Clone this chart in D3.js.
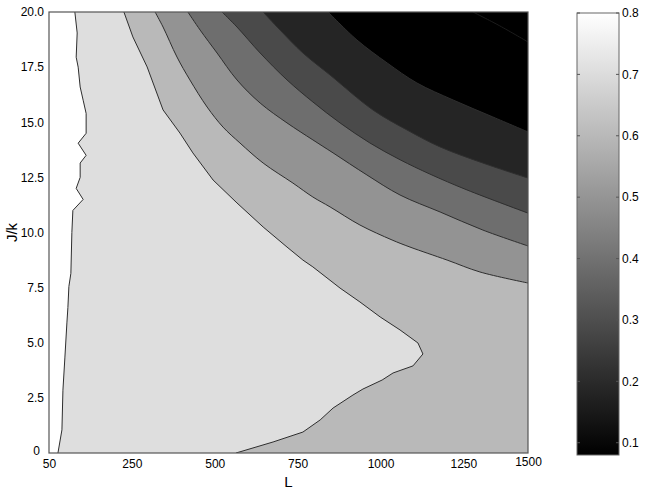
<!DOCTYPE html>
<html><head><meta charset="utf-8">
<script src="https://cdn.jsdelivr.net/npm/d3@7"></script>
<style>body{margin:0;background:#fff}svg{display:block}text{font-family:"Liberation Sans",Arial,sans-serif;fill:#000}</style>
</head><body><svg id="c" width="645" height="491"></svg>
<script>
// ---- data (L, J/k) ----
const xTickValues = [0, 250, 500, 750, 1000, 1250, 1445];
const xTickLabels = ["50", "250", "500", "750", "1000", "1250", "1500"];
const yTickValues = [0, 2.5, 5, 7.5, 10, 12.5, 15, 17.5, 20];
const yTickLabels = ["0", "2.5", "5.0", "7.5", "10.0", "12.5", "15.0", "17.5", "20.0"];
const cbTickValues = [0.1, 0.2, 0.3, 0.4, 0.5, 0.6, 0.7, 0.8];
const cbTickLabels = ["0.1", "0.2", "0.3", "0.4", "0.5", "0.6", "0.7", "0.8"];

// band values (filled levels, highest at left/bottom)
const bandValues = [0.80, 0.707, 0.602, 0.495, 0.39, 0.29, 0.184, 0.08, 0.08];

// contour boundary lines, each from top edge down/right
const contourW = [[78,20],[85,19.05],[82,17.95],[88,17.5],[94,16.6],[103,16.0],[112,15.4],[112,14.5],[88,14.05],[112,13.5],[94,13.15],[94,12.5],[82,12.0],[103,11.5],[72,11.0],[69,10.0],[66,8.15],[60,7.55],[57,6.6],[54,5.9],[48,4.35],[42,2.85],[39,1.05],[27,0]];
const contourA = [[226,20],[253,18.87],[296,17.51],[314,16.78],[344,15.56],[395,14.51],[434,13.61],[495,12.38],[567,11.34],[646,10.25],[718,9.34],[766,8.75],[796,8.44],[878,7.48],[938,6.85],[999,6.17],[1059,5.58],[1113,4.99],[1128,4.49],[1098,3.95],[1038,3.63],[1005,3.31],[947,2.9],[917,2.63],[857,2.04],[818,1.5],[766,0.95],[676,0.5],[564,0]];
const contourB = [[320,20],[344,19.32],[386,17.96],[425,16.92],[477,15.69],[525,14.78],[576,14.06],[646,13.15],[736,12.24],[796,11.61],[848,11.16],[938,10.34],[1035,9.66],[1089,9.34],[1201,8.75],[1300,8.21],[1445,7.71]];
const contourC = [[419,20],[456,19.18],[507,18.14],[567,16.92],[637,15.87],[718,14.97],[796,14.2],[857,13.61],[959,12.61],[1059,11.7],[1180,10.93],[1309,10.11],[1445,9.39]];
const contourD = [[522,20],[567,19.32],[637,18.14],[718,16.92],[796,15.92],[878,14.97],[968,14.06],[1059,13.3],[1149,12.65],[1261,11.93],[1445,10.88]];
const contourE = [[646,20],[697,19.18],[766,18.14],[848,17.14],[977,15.56],[1080,14.65],[1180,13.88],[1309,13.15],[1445,12.47]];
const contourF = [[842,20],[929,18.73],[1020,17.69],[1110,16.78],[1219,16.01],[1339,15.24],[1445,14.56]];
const contourG = [[1279,20],[1360,19.37],[1445,18.64]];

const xDomain = [0, 1445];
const yDomain = [0, 20];
const cbDomain = [0.08, 0.8];

// ---- layout ----
const svg = d3.select("#c");
const m = {left: 49, right: 528, top: 12, bottom: 453};
const x = d3.scaleLinear().domain(xDomain).range([m.left, m.right]);
const y = d3.scaleLinear().domain(yDomain).range([m.bottom, m.top]);
const gray = d3.scaleLinear().domain(cbDomain).range(["#000000", "#ffffff"]).clamp(true);

const defs = svg.append("defs");
defs.append("clipPath").attr("id", "clip")
  .append("rect").attr("x", m.left).attr("y", m.top)
  .attr("width", m.right - m.left).attr("height", m.bottom - m.top);

const plot = svg.append("g").attr("clip-path", "url(#clip)");
plot.append("rect").attr("x", m.left).attr("y", m.top)
  .attr("width", m.right - m.left).attr("height", m.bottom - m.top)
  .attr("fill", gray(bandValues[0]));

const contours = [contourW, contourA, contourB, contourC, contourD, contourE, contourF, contourG];
const lineSharp = d3.line().x(d => x(d[0])).y(d => y(d[1]));
const lineSmooth = d3.line().x(d => x(d[0])).y(d => y(d[1])).curve(d3.curveCatmullRom.alpha(0.5));
const lineFor = i => (i <= 1 ? lineSharp : lineSmooth);

contours.forEach((pts, i) => {
  const last = pts[pts.length - 1];
  let d = lineFor(i)(pts);
  if (last[1] === yDomain[0]) d += `L${x(xDomain[1])},${y(yDomain[0])}`;
  d += `L${x(xDomain[1])},${y(yDomain[1])}Z`;
  plot.append("path").attr("d", d)
    .attr("fill", gray(bandValues[i + 1])).attr("stroke", "none");
});
contours.forEach((pts, i) => {
  plot.append("path").attr("d", lineFor(i)(pts)).attr("fill", "none")
    .attr("stroke", i === 7 ? "#1c1c1c" : "#2e2e2e").attr("stroke-width", 1);
});

svg.append("rect").attr("x", m.left).attr("y", m.top)
  .attr("width", m.right - m.left).attr("height", m.bottom - m.top)
  .attr("fill", "none").attr("stroke", "#555").attr("stroke-width", 1.2);

// axes
const xAxis = svg.append("g").attr("transform", `translate(0,${m.bottom})`)
  .call(d3.axisBottom(x).tickValues(xTickValues).tickSize(0).tickPadding(6)
    .tickFormat((d, i) => xTickLabels[i]));
xAxis.select(".domain").remove();
xAxis.selectAll("text").attr("font-size", 12).attr("font-family", "Liberation Sans, Arial, sans-serif")
  .attr("dy", (d, i) => i === xTickLabels.length - 1 ? "0.55em" : "0.71em");

const yAxis = svg.append("g").attr("transform", `translate(${m.left},0)`)
  .call(d3.axisLeft(y).tickValues(yTickValues).tickSize(0).tickPadding(5)
    .tickFormat((d, i) => yTickLabels[i]));
yAxis.select(".domain").remove();
yAxis.selectAll("text").attr("font-size", 12).attr("font-family", "Liberation Sans, Arial, sans-serif")
  .attr("dx", (d, i) => i === 0 ? -4 : 0).attr("dy", (d, i) => i === 0 ? "0.1em" : "0.32em");

svg.append("text").attr("x", (m.left + m.right) / 2).attr("y", 487)
  .attr("text-anchor", "middle").attr("font-size", 15).text("L");
svg.append("text").attr("transform", `translate(17,${(m.top + m.bottom) / 2}) rotate(-90)`)
  .attr("text-anchor", "middle").attr("font-size", 15).text("J/k");

// colorbar
const cb = {x: 577, w: 42, top: 13, bottom: 455};
const cy = d3.scaleLinear().domain(cbDomain).range([cb.bottom, cb.top]);
const grad = defs.append("linearGradient").attr("id", "cbgrad")
  .attr("x1", 0).attr("y1", 1).attr("x2", 0).attr("y2", 0);
d3.range(0, 1.0001, 0.1).forEach(t => {
  const v = cbDomain[0] + t * (cbDomain[1] - cbDomain[0]);
  grad.append("stop").attr("offset", t).attr("stop-color", gray(v));
});
svg.append("rect").attr("x", cb.x).attr("y", cb.top).attr("width", cb.w)
  .attr("height", cb.bottom - cb.top).attr("fill", "url(#cbgrad)")
  .attr("stroke", "#666").attr("stroke-width", 1);
const cbt = svg.append("g");
cbTickValues.forEach((v, i) => {
  cbt.append("line").attr("x1", cb.x).attr("x2", cb.x + 3).attr("y1", cy(v)).attr("y2", cy(v)).attr("stroke", "#555");
  cbt.append("line").attr("x1", cb.x + cb.w - 3).attr("x2", cb.x + cb.w).attr("y1", cy(v)).attr("y2", cy(v)).attr("stroke", "#555");
  cbt.append("text").attr("x", cb.x + cb.w + 3).attr("y", cy(v)).attr("dy", "0.35em")
    .attr("font-size", 12).text(cbTickLabels[i]);
});
</script></body></html>
